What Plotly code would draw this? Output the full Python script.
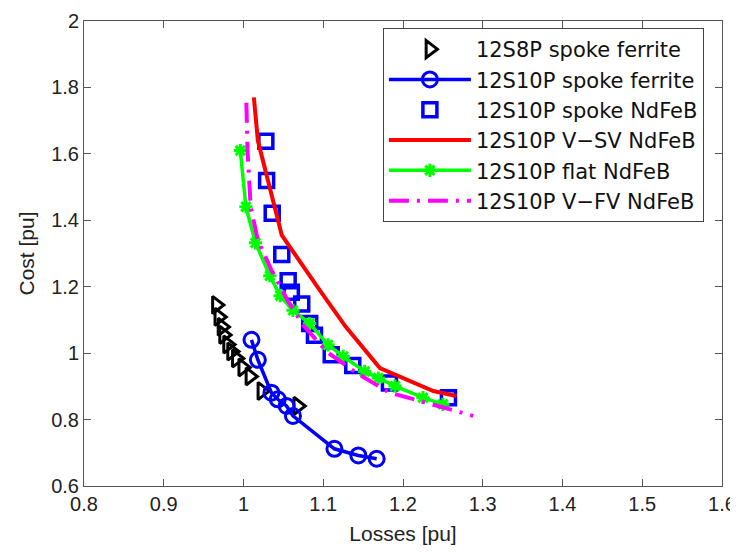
import plotly.graph_objects as go

# ---- data ----
tri_x = [0.966, 0.969, 0.973, 0.975, 0.980, 0.985, 0.991, 0.999, 1.008, 1.023, 1.068]
tri_y = [1.145, 1.109, 1.079, 1.055, 1.026, 1.005, 0.984, 0.957, 0.930, 0.886, 0.841]

circ_x = [1.010, 1.018, 1.035, 1.043, 1.054, 1.062, 1.114, 1.144, 1.167]
circ_y = [1.040, 0.980, 0.881, 0.861, 0.841, 0.811, 0.712, 0.692, 0.682]

sq_x = [1.028, 1.029, 1.036, 1.048, 1.056, 1.060, 1.073, 1.083, 1.089, 1.110, 1.137, 1.183, 1.257]
sq_y = [1.638, 1.520, 1.421, 1.297, 1.218, 1.183, 1.148, 1.089, 1.054, 0.995, 0.963, 0.910, 0.866]

red_x = [1.013, 1.018, 1.048, 1.071, 1.096, 1.128, 1.171, 1.238, 1.267]
red_y = [1.770, 1.640, 1.355, 1.273, 1.188, 1.080, 0.955, 0.886, 0.871]

green_x = [0.996, 1.003, 1.015, 1.033, 1.046, 1.062, 1.083, 1.106, 1.125, 1.152, 1.169, 1.190, 1.225, 1.250]
green_y = [1.610, 1.441, 1.332, 1.233, 1.173, 1.129, 1.089, 1.025, 0.990, 0.945, 0.925, 0.901, 0.866, 0.846]

mag_x = [1.0036, 1.005, 1.009, 1.018, 1.035, 1.055, 1.075, 1.104, 1.142, 1.183, 1.229, 1.288]
mag_y = [1.754, 1.610, 1.440, 1.340, 1.250, 1.160, 1.084, 1.005, 0.940, 0.881, 0.851, 0.811]

x_ticks = [0.8, 0.9, 1.0, 1.1, 1.2, 1.3, 1.4, 1.5, 1.6]
x_ticktext = ["0.8", "0.9", "1", "1.1", "1.2", "1.3", "1.4", "1.5", "1.6"]
y_ticks = [0.6, 0.8, 1.0, 1.2, 1.4, 1.6, 1.8, 2.0]
y_ticktext = ["0.6", "0.8", "1", "1.2", "1.4", "1.6", "1.8", "2"]

names = ["12S8P spoke ferrite", "12S10P spoke ferrite", "12S10P spoke NdFeB",
         "12S10P V\u2212SV NdFeB", "12S10P flat NdFeB", "12S10P V\u2212FV NdFeB"]

fig = go.Figure()
fig.add_trace(go.Scatter(x=tri_x, y=tri_y, mode="markers", name=names[0],
                         marker=dict(symbol="triangle-right-open", size=15, color="black",
                                     line=dict(width=3, color="black"))))
fig.add_trace(go.Scatter(x=circ_x, y=circ_y, mode="lines+markers", name=names[1],
                         line=dict(color="#0000ff", width=3.5),
                         marker=dict(symbol="circle-open", size=15, color="#0000ff",
                                     line=dict(width=3, color="#0000ff"))))
fig.add_trace(go.Scatter(x=sq_x, y=sq_y, mode="markers", name=names[2],
                         marker=dict(symbol="square-open", size=14, color="#0000ff",
                                     line=dict(width=3.5, color="#0000ff"))))
fig.add_trace(go.Scatter(x=red_x, y=red_y, mode="lines", name=names[3],
                         line=dict(color="#ff0000", width=4)))
fig.add_trace(go.Scatter(x=green_x, y=green_y, mode="lines+markers", name=names[4],
                         line=dict(color="#00ff00", width=3.5),
                         marker=dict(symbol="asterisk-open", size=11, color="#00ff00",
                                     line=dict(width=3, color="#00ff00"))))
fig.add_trace(go.Scatter(x=mag_x, y=mag_y, mode="lines", name=names[5],
                         line=dict(color="#ff00ff", width=4, dash="20px,8px,3px,8px")))

axis_common = dict(showgrid=False, zeroline=False, showline=True, linecolor="#555555",
                   linewidth=1, mirror="ticks", ticks="inside", ticklen=7,
                   tickcolor="#555555", tickwidth=1, automargin=False,
                   ticklabeloverflow="allow",
                   tickfont=dict(family="Liberation Sans, Arial", size=20, color="#222222"),
                   title_font=dict(family="Liberation Sans, Arial", size=21, color="#222222"))

fig.update_xaxes(range=[0.8, 1.6], tickvals=x_ticks, ticktext=x_ticktext,
                 title_text="Losses [pu]", title_standoff=12, **axis_common)
fig.update_yaxes(range=[0.6, 2.0], tickvals=y_ticks, ticktext=y_ticktext,
                 title_text="Cost [pu]", title_standoff=10, **axis_common)

fig.update_layout(
    width=730, height=544,
    margin=dict(l=76, r=16, t=13, b=66),
    paper_bgcolor="white", plot_bgcolor="white",
    showlegend=True,
    legend=dict(x=0.4685, y=0.985, xanchor="left", yanchor="top",
                bgcolor="white", bordercolor="#444444", borderwidth=1,
                font=dict(family="DejaVu Sans", size=21, color="#111111"),
                itemwidth=82, tracegroupgap=0),
)

fig.write_html("out.html")
